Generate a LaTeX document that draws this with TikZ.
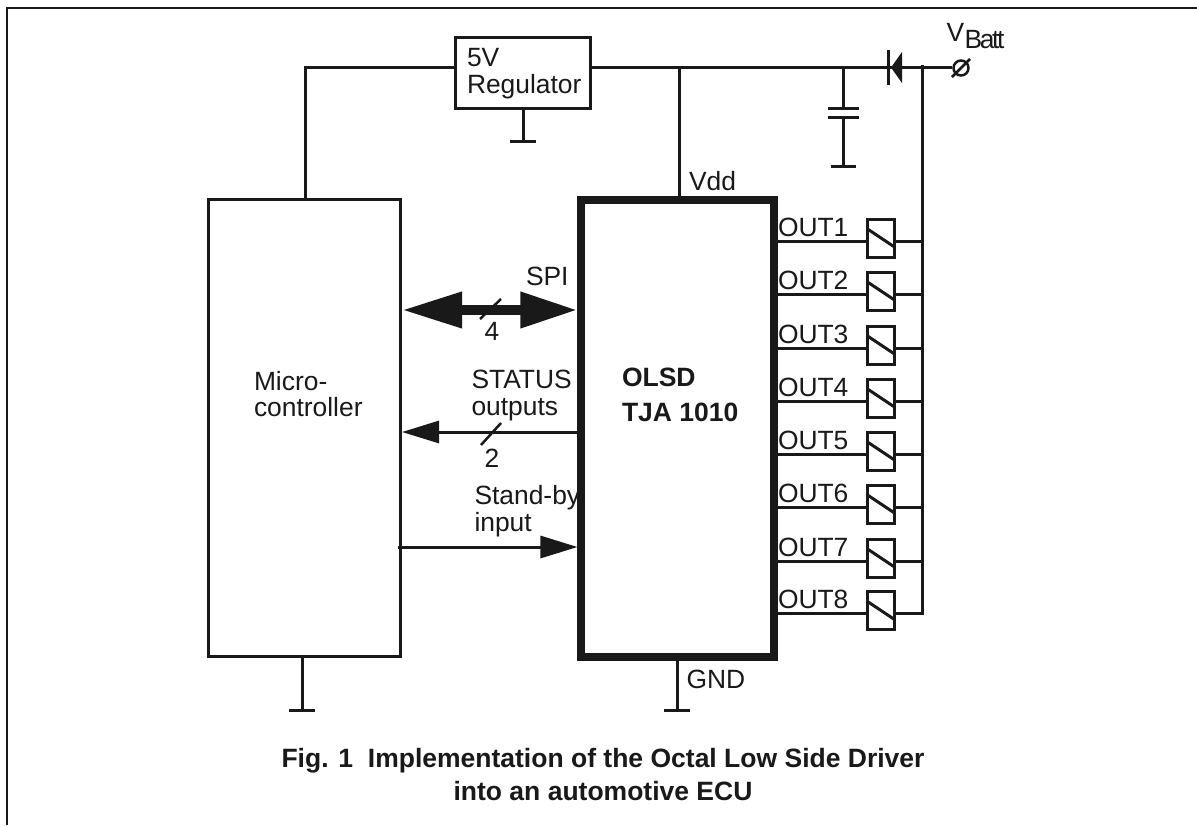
\documentclass[tikz,border=0pt]{standalone}
\usepackage{fontspec}
\setmainfont{Liberation Sans}
\usetikzlibrary{arrows.meta}
\begin{document}
\begin{tikzpicture}[x=1pt, y=-1pt, line width=3pt, color=black!90]
	\tikzstyle{block}=[rectangle, draw, line width=3pt, inner sep=0pt]
	\tikzstyle{label}=[inner sep=0pt, anchor=west, font=\fontsize{26.4}{30}\selectfont]
	\tikzstyle{heading}=[inner sep=0pt, anchor=west, font=\fontsize{26.5}{30}\selectfont\bfseries]
	\tikzstyle{coil}=[rectangle, draw, minimum width=27pt, minimum height=38pt, inner sep=0pt, path picture={\draw (path picture bounding box.west)+(0,-9) -- ++(27,9);}]
	\useasboundingbox (0,0) rectangle (1197,825);

	% page frame
	\draw [line width=2pt] (6.5,825) -- (6.5,7.5) -- (1197,7.5);

	% blocks
	\draw node[block, minimum width=191.5pt, minimum height=456.5pt] at (304.5, 428) (micro) {};
	\draw node[block, line width=7.7pt, minimum width=192.4pt, minimum height=457pt] at (677.5, 428.5) (olsd) {};
	\draw node[block, minimum width=135pt, minimum height=71pt] at (523, 73) (reg) {};
	\draw node[label] at (465.5, 58) (reg5v) {5V};
	\draw node[label] at (465.5, 87) (regtxt) {Regulator};

	% supply line
	\coordinate (corner) at (305, 67);
	\coordinate (vddtop) at (679, 67);
	\coordinate (captop) at (843, 67);
	\coordinate (railtop) at (922, 65);
	\coordinate (railbot) at (922, 615);
	\coordinate (cathode) at (888, 67);
	\draw node[circle, draw, line width=2.5pt, minimum size=15pt, inner sep=0pt] at (961, 68) (batt) {};
	\draw (micro.north -| corner) -- (corner) -- (reg.west |- corner);
	\draw (reg.east |- corner) -- (cathode);
	\draw (cathode) -- (batt.west |- cathode);
	\draw (railtop) -- (railbot);
	\draw (vddtop) -- (vddtop |- olsd.north);
	\draw [shorten >=-4pt, shorten <=-4pt, line width=2.5pt] (batt.225) -- (batt.45);

	% diode
	\draw (888, 50) -- (888, 85);
	\fill (891, 67.5) -- (902, 52) -- (902, 83) -- cycle;

	% capacitor
	\coordinate (plate1) at (843, 108);
	\coordinate (plate2) at (843, 117);
	\coordinate (capgnd) at (843, 166);
	\draw (captop) -- (plate1);
	\draw (plate2) -- (capgnd);
	\draw ([xshift=-15.5pt]plate1) -- ([xshift=15.5pt]plate1);
	\draw ([xshift=-15.5pt]plate2) -- ([xshift=15.5pt]plate2);
	\draw ([xshift=-12.5pt]capgnd) -- ([xshift=12.5pt]capgnd);

	% grounds
	\coordinate (reggnd) at (523, 141);
	\coordinate (microgndc) at (302, 710);
	\coordinate (olsdgndc) at (677, 710);
	\draw (reggnd |- reg.south) -- (reggnd);
	\draw ([xshift=-13pt]reggnd) -- ([xshift=13pt]reggnd);
	\draw (microgndc |- micro.south) -- (microgndc);
	\draw ([xshift=-13pt]microgndc) -- ([xshift=13pt]microgndc);
	\draw (olsdgndc |- olsd.south) -- (olsdgndc);
	\draw ([xshift=-13pt]olsdgndc) -- ([xshift=13pt]olsdgndc);

	% block texts
	\draw node[label] at (252.5, 381) (microa) {Micro-};
	\draw node[label] at (252.5, 407) (microb) {controller};
	\draw node[heading] at (620.5, 377) (olsda) {OLSD};
	\draw node[heading] at (620.5, 412) (olsdb) {TJA 1010};
	\draw node[label] at (687.5, 181) (vdd) {Vdd};
	\draw node[label] at (685, 679) (gnd) {GND};
	\draw node[label] at (945, 32.5) (vbatt) {V};
	\draw node[label] at (963, 40) (vbattsub) {\addfontfeature{LetterSpace=-9}Batt};

	% buses
	\coordinate (spiy) at (0, 310);
	\coordinate (staty) at (0, 432);
	\coordinate (stby) at (0, 547);
	\draw [line width=10pt, {Triangle[length=60pt, width=34pt]}-{Triangle[length=57pt, width=34pt]}] (402, 310) -- (olsd.west |- spiy);
	\draw [-{Triangle[length=37pt, width=22pt]}] (olsd.west |- staty) -- (402, 432);
	\draw [-{Triangle[length=37pt, width=22pt]}] (398, 547) -- (olsd.west |- stby);
	\draw [line width=2.5pt] (480, 319) -- (501, 299);
	\draw [line width=2.5pt] (481, 445) -- (501, 423);
	\draw node[label] at (524.5, 276) (spi) {SPI};
	\draw node[label] at (483, 331) (buswid) {4};
	\draw node[label] at (470, 379) (status) {STATUS};
	\draw node[label] at (470, 409.5) (outputs) {outputs};
	\draw node[label] at (483, 458) (statwid) {2};
	\draw node[label] at (473, 498) (standby) {Stand-by};
	\draw node[label] at (473, 525) (input) {input};

	% output coils
	\draw node[coil] at (881, 238) (c1) {};
	\draw node[coil] at (881, 291) (c2) {};
	\draw node[coil] at (881, 345) (c3) {};
	\draw node[coil] at (881, 398) (c4) {};
	\draw node[coil] at (881, 451) (c5) {};
	\draw node[coil] at (881, 504) (c6) {};
	\draw node[coil] at (881, 558) (c7) {};
	\draw node[coil] at (881, 610.5) (c8) {};
	\draw node[label] at (776.5, 227) (o1) {OUT1};
	\draw node[label] at (776.5, 280) (o2) {OUT2};
	\draw node[label] at (776.5, 334) (o3) {OUT3};
	\draw node[label] at (776.5, 387) (o4) {OUT4};
	\draw node[label] at (776.5, 440) (o5) {OUT5};
	\draw node[label] at (776.5, 493) (o6) {OUT6};
	\draw node[label] at (776.5, 547) (o7) {OUT7};
	\draw node[label] at (776.5, 599) (o8) {OUT8};
	\draw ([yshift=-3pt]c1.west -| olsd.east) -- ([yshift=-3pt]c1.west) ([yshift=-3pt]c1.east) -- ([yshift=-3pt]c1.east -| railtop);
	\draw ([yshift=-3pt]c2.west -| olsd.east) -- ([yshift=-3pt]c2.west) ([yshift=-3pt]c2.east) -- ([yshift=-3pt]c2.east -| railtop);
	\draw ([yshift=-3pt]c3.west -| olsd.east) -- ([yshift=-3pt]c3.west) ([yshift=-3pt]c3.east) -- ([yshift=-3pt]c3.east -| railtop);
	\draw ([yshift=-3pt]c4.west -| olsd.east) -- ([yshift=-3pt]c4.west) ([yshift=-3pt]c4.east) -- ([yshift=-3pt]c4.east -| railtop);
	\draw ([yshift=-3pt]c5.west -| olsd.east) -- ([yshift=-3pt]c5.west) ([yshift=-3pt]c5.east) -- ([yshift=-3pt]c5.east -| railtop);
	\draw ([yshift=-3pt]c6.west -| olsd.east) -- ([yshift=-3pt]c6.west) ([yshift=-3pt]c6.east) -- ([yshift=-3pt]c6.east -| railtop);
	\draw ([yshift=-3pt]c7.west -| olsd.east) -- ([yshift=-3pt]c7.west) ([yshift=-3pt]c7.east) -- ([yshift=-3pt]c7.east -| railtop);
	\draw ([yshift=-3pt]c8.west -| olsd.east) -- ([yshift=-3pt]c8.west) ([yshift=-3pt]c8.east) -- ([yshift=-3pt]c8.east -| railtop);

	% caption
	\draw node[heading, anchor=center] at (603, 761) (cap1) {Fig. 1\ \ Implementation of the Octal Low Side Driver};
	\draw node[heading, anchor=center] at (603, 791) (cap2) {into an automotive ECU};
\end{tikzpicture}
\end{document}
